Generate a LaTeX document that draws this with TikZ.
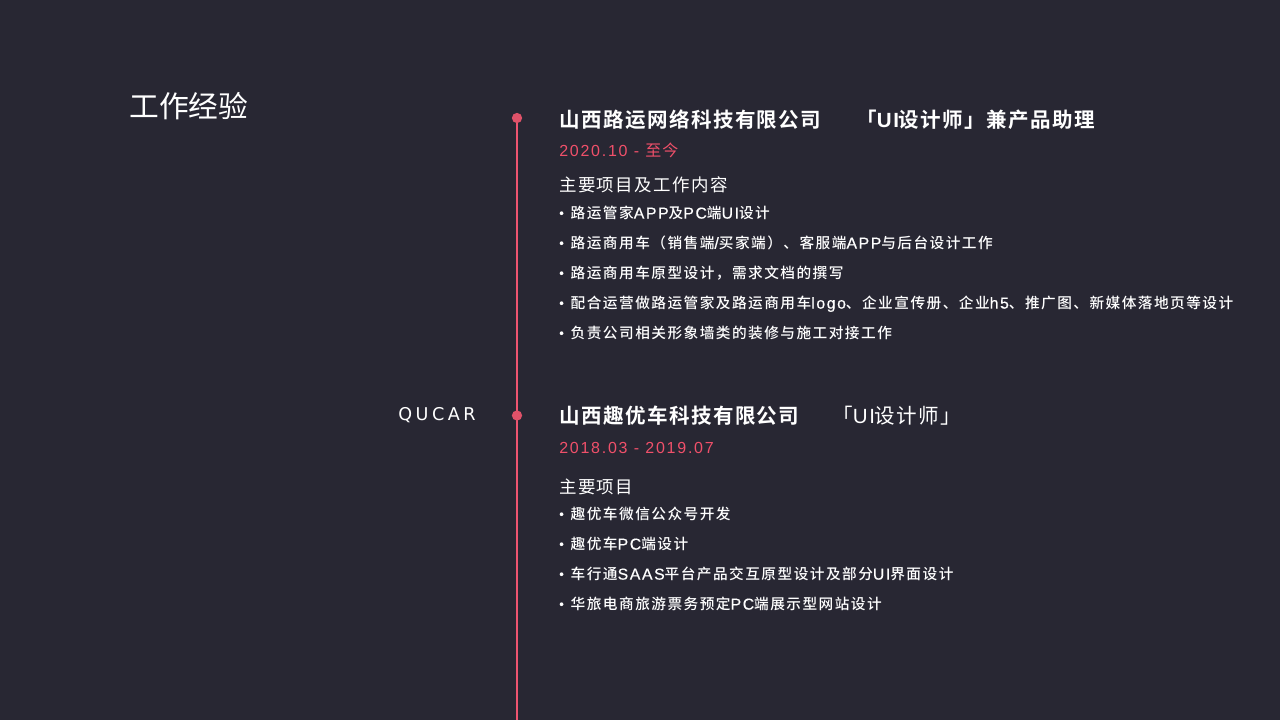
\documentclass[tikz,border=0pt]{standalone}
\usepackage{fontspec}
\newfontfamily\cjk{Noto Sans CJK SC}
\newfontfamily\cjkm{Noto Sans CJK SC Medium}
\newfontfamily\cjkb{Noto Sans CJK SC Bold}
\newfontfamily\lai[LetterSpace=10,FakeBold=0.5,Scale=1.08]{Liberation Sans}
\newfontfamily\lad[LetterSpace=11]{Liberation Sans}
\newfontfamily\lar[LetterSpace=8]{Liberation Sans}
\newfontfamily\labb[LetterSpace=8]{Liberation Sans Bold}
\newfontfamily\logof[LetterSpace=20]{DejaVu Sans}
\newcommand{\li}[1]{{\lai #1}}
\newcommand{\ld}[1]{{\lad #1}}
\newcommand{\lr}[1]{{\lar #1}}
\newcommand{\lb}[1]{{\labb #1}}
\newcommand{\bul}{\makebox[8.6pt][l]{\raisebox{0.8pt}{\lai\fontsize{9}{10}\selectfont •}}}
\definecolor{bgc}{HTML}{282733}
\definecolor{linec}{HTML}{EE5470}
\definecolor{dotc}{HTML}{DF5269}
\definecolor{datec}{HTML}{F0506A}
\tikzset{
 px/.style={x=0.75pt,y=-0.75pt},
 txt/.style={anchor=west,inner sep=0pt,text=white,font=\cjk},
 title/.style={txt,font=\cjk\fontsize{22.3}{24}\selectfont},
 company/.style={txt,font=\cjkb\fontsize{15.4}{16}\selectfont\addfontfeatures{LetterSpace=7}},
 rolem/.style={txt,font=\cjkb\fontsize{15.4}{16}\selectfont\addfontfeatures{LetterSpace=7}},
 role/.style={txt,font=\cjk\fontsize{15.4}{16}\selectfont\addfontfeatures{LetterSpace=6}},
 date/.style={txt,text=datec,font=\cjk\fontsize{12}{13}\selectfont\addfontfeatures{LetterSpace=6}},
 head/.style={txt,font=\cjk\fontsize{13.1}{14}\selectfont\addfontfeatures{LetterSpace=8}},
 item/.style={txt,text height=10.4pt,text depth=2pt,font=\cjkm\fontsize{11}{12}\selectfont\addfontfeatures{LetterSpace=10}},
 logo/.style={txt,font=\logof\fontsize{13.2}{14}\selectfont},
 dot/.style={circle,fill=dotc,inner sep=0pt,minimum size=7.7pt},
}
\begin{document}
\begin{tikzpicture}[px]
\useasboundingbox (0,0) rectangle (1280,720);
\fill[bgc] (0,0) rectangle (1280,720);
\coordinate (e) at (517,720);
\coordinate (s) at (517,118);
\draw[linec,line width=1.5pt] (s) -- (e);
\node[dot] (d1) at (517,118) {};
\node[dot] (d2) at (517,415.5) {};
\node[title] (t) at (129,106) {工作经验};
\node[logo] (q) at (398,415) {QUCAR};
\node[company] (c1) at (559,120) {山西路运网络科技有限公司};
\node[rolem] (r1) at (856,120) {「\lb{UI}设计师」兼产品助理};
\node[date] (dt1) at (559,150) {\ld{2020.10 - }至今};
\node[head] (h1) at (559,185) {主要项目及工作内容};
\node[item] (a1) at (559,213) {\bul 路运管家\li{APP}及\li{PC}端\li{UI}设计};
\node[item] (a2) at (559,243) {\bul 路运商用车（销售端\li{/}买家端）、客服端\li{APP}与后台设计工作};
\node[item] (a3) at (559,273) {\bul 路运商用车原型设计，需求文档的撰写};
\node[item] (a4) at (559,303) {\bul 配合运营做路运管家及路运商用车\li{logo}、企业宣传册、企业\li{h5}、推广图、新媒体落地页等设计};
\node[item] (a5) at (559,333) {\bul 负责公司相关形象墙类的装修与施工对接工作};
\node[company] (c2) at (559,416) {山西趣优车科技有限公司};
\node[role] (r2) at (832,416) {「\lr{UI}设计师」};
\node[date] (dt2) at (559,447.5) {\ld{2018.03 - 2019.07}};
\node[head] (h2) at (559,486.5) {主要项目};
\node[item] (b1) at (559,514) {\bul 趣优车微信公众号开发};
\node[item] (b2) at (559,544) {\bul 趣优车\li{PC}端设计};
\node[item] (b3) at (559,574) {\bul 车行通\li{SAAS}平台产品交互原型设计及部分\li{UI}界面设计};
\node[item] (b4) at (559,604) {\bul 华旅电商旅游票务预定\li{PC}端展示型网站设计};
\end{tikzpicture}
\end{document}
